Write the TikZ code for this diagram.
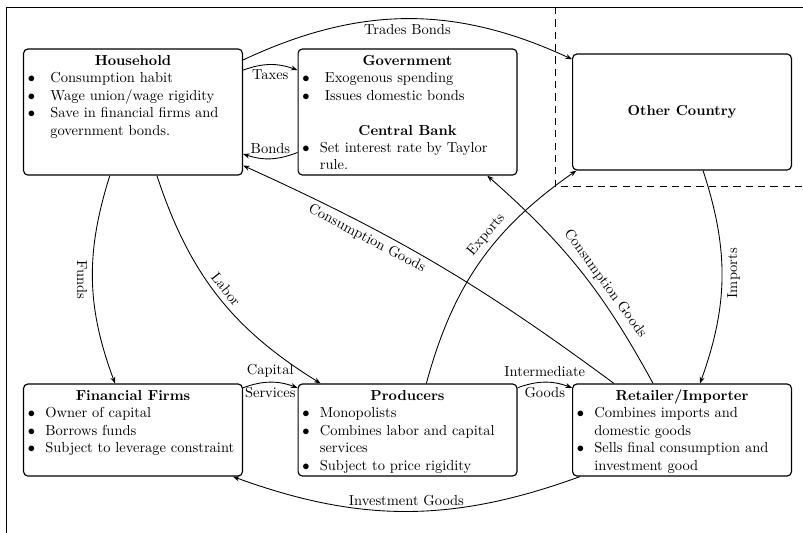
\documentclass[tikz,border=0pt]{standalone}
\usepackage{tikz}
\usetikzlibrary{arrows.meta}
\tikzset{box/.style={draw,thick,rounded corners=3pt,inner sep=3pt},
flow/.style={-{Stealth[length=1.6mm]},line width=.6pt},
split/.style={dashed,dash pattern=on 5pt off 3.5pt,line width=.6pt}}
% bullet line inside a box, optional indent
\newcommand{\bitem}[2][12pt]{\par\noindent\hangindent=#1\hangafter=1\makebox[#1][l]{$\bullet$}#2}
% box contents: height, title, items
\newcommand{\boxtext}[3]{\begin{minipage}[t][#1][t]{145pt}\raggedright
{\centering\textbf{#2}\strut\par}#3\end{minipage}}

\begin{document}
\begin{tikzpicture}
\useasboundingbox (0,0) rectangle (19.47,-12.92);
\draw[line width=.5pt] (0.15,-12.92) |- (19.47,-0.17);
\draw[split] (13.46,-0.17) |- (19.47,-4.51);

% agents
\node[box] (hh) at (3.225,-2.716) {\boxtext{81pt}{Household}{%
\bitem[15.5pt]{Consumption habit}
\bitem[15.5pt]{Wage union/wage rigidity}
\bitem[15.5pt]{Save in financial firms and\newline government bonds.}}};
\node[box] (gov) at (9.881,-2.716) {\boxtext{81pt}{Government}{%
\bitem[15.5pt]{Exogenous spending}
\bitem[15.5pt]{Issues domestic bonds}\par\vspace{12pt}
{\centering\textbf{Central Bank}\par}
\bitem{Set interest rate by Taylor\newline rule.}}};
\node[box,minimum width=151pt,minimum height=80pt,font=\bfseries] (oc) at (16.537,-2.716) {Other Country};
\node[box] (ff) at (3.225,-10.426) {\boxtext{57.5pt}{Financial Firms}{%
\bitem{Owner of capital}
\bitem{Borrows funds}
\bitem{Subject to leverage constraint}}};
\node[box] (prod) at (9.881,-10.426) {\boxtext{57.5pt}{Producers}{%
\bitem{Monopolists}
\bitem{Combines labor and capital\newline services}
\bitem{Subject to price rigidity}}};
\node[box] (ret) at (16.537,-10.426) {\boxtext{57.5pt}{Retailer/Importer}{%
\bitem{Combines imports and\newline domestic goods}
\bitem{Sells final consumption and\newline investment good}}};

% flows
\draw[flow] ([yshift=-8pt]hh.north east) to[bend left=25] node[midway,below] {Trades Bonds} ([yshift=-4pt]oc.north west);
\draw[flow] ([yshift=-15pt]hh.north east) to[bend left=20] node[midway,below] {Taxes} ([yshift=-15pt]gov.north west);
\draw[flow] ([yshift=16pt]gov.south west) to[bend left=20] node[midway,above] {Bonds} ([yshift=15pt]hh.south east);
\draw[flow] ([xshift=-47pt]ret.north) to[bend right=6] node[pos=.68,sloped,below] {Consumption Goods} ([yshift=7pt]hh.south east);
\draw[flow] ([xshift=-20pt]ret.north) to[bend right=10] node[pos=.4,sloped,above] {Consumption Goods} ([xshift=55pt]gov.south);
\draw[flow] ([xshift=13pt]prod.north) to[bend left=20] node[pos=.6,sloped,above] {Exports} ([xshift=3pt]oc.south west);
\draw[flow] ([xshift=14.5pt]oc.south) to[bend left=19] node[pos=.48,rotate=90,anchor=north] {Imports} ([xshift=12.4pt]ret.north);
\draw[flow] ([xshift=-16pt]hh.south) to[bend right=19] node[midway,rotate=-90,anchor=north] {Funds} ([xshift=-12.4pt]ff.north);
\draw[flow] ([xshift=16.5pt]hh.south) to[bend right=20] node[pos=.5,sloped,above] {Labor} ([xshift=-60pt]prod.north);
\draw[flow] ([yshift=-3pt]ff.north east) to[bend left=20] node[midway,above] {Capital} node[midway,below] {Services} ([yshift=-3pt]prod.north west);
\draw[flow] ([yshift=-3pt]prod.north east) to[bend left=20] node[midway,above] {Intermediate} node[midway,below] {Goods} ([yshift=-3pt]ret.north west);
\draw[flow] ([xshift=5.5pt]ret.south west) to[bend left=20] node[midway,above] {Investment Goods} ([xshift=-7pt]ff.south east);
\end{tikzpicture}
\end{document}
